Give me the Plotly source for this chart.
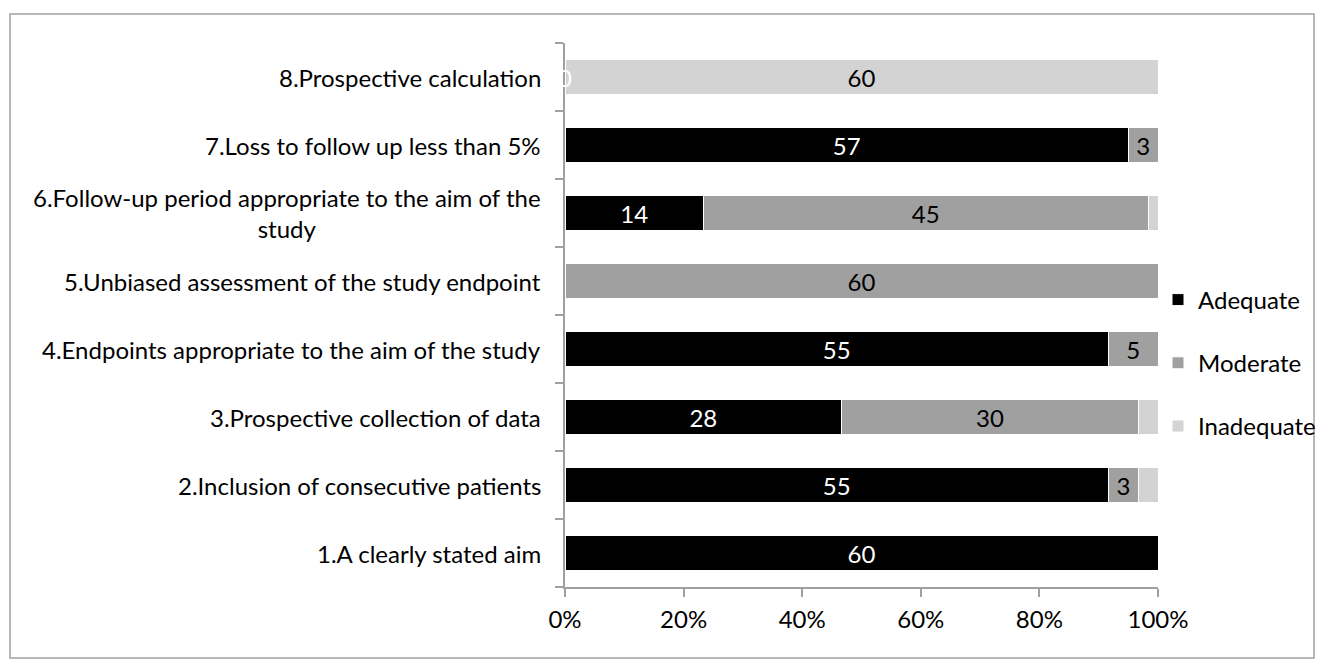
import plotly.graph_objects as go

categories = [
    "1.A clearly stated aim",
    "2.Inclusion of consecutive patients",
    "3.Prospective collection of data",
    "4.Endpoints appropriate to the aim of the study",
    "5.Unbiased assessment of the study endpoint",
    "6.Follow-up period appropriate to the aim of the<br>study",
    "7.Loss to follow up less than 5%",
    "8.Prospective calculation",
]
adequate = [60, 55, 28, 55, 0, 14, 57, 0]
moderate = [0, 3, 30, 5, 60, 45, 3, 0]
inadequate = [0, 2, 2, 0, 0, 1, 0, 60]
series_names = ["Adequate", "Moderate", "Inadequate"]
x_ticks = [0, 20, 40, 60, 80, 100]
x_tick_labels = ["0%", "20%", "40%", "60%", "80%", "100%"]

colors = ["#000000", "#a0a0a0", "#d3d3d3"]
text_colors = ["#ffffff", "#000000", "#000000"]
FONT = "Lato"
FS = 24

totals = [a + m + i for a, m, i in zip(adequate, moderate, inadequate)]
ypos = list(range(len(categories)))

fig = go.Figure()
for name, vals, col, tcol in zip(series_names, [adequate, moderate, inadequate], colors, text_colors):
    pct = [v / t * 100 for v, t in zip(vals, totals)]
    labels = [str(v) if v >= 3 else "" for v in vals]
    fig.add_trace(go.Bar(
        y=ypos, x=pct, orientation="h", name=name, legendgroup=name,
        marker=dict(color=col, line=dict(color="#ffffff", width=1)),
        text=labels, textposition="inside", insidetextanchor="middle",
        textfont=dict(family=FONT, size=FS, color=tcol),
        textangle=0, cliponaxis=False,
    ))

L, R, T, B = 565, 165, 43, 79
W, H = 1323, 666
pw, ph = W - L - R, H - T - B

# white "0" label of the empty Adequate segment in category 8
fig.add_annotation(x=0, y=7, xref="x", yref="y", text="0", showarrow=False,
                   font=dict(family=FONT, size=FS, color="#ffffff"))

for i, c in enumerate(categories):
    fig.add_annotation(x=0, y=i, xref="paper", yref="y", text=c, showarrow=False,
                       xanchor="right", yanchor="middle", align="center", xshift=-22,
                       font=dict(family=FONT, size=FS, color="#000000"))

def px2paper_x(p):
    return (p - L) / pw

def px2paper_y(p):
    return (H - B - p) / ph

fig.add_shape(type="rect", xref="paper", yref="paper",
              x0=px2paper_x(10), x1=px2paper_x(1314), y0=px2paper_y(658), y1=px2paper_y(14),
              line=dict(color="#a0a0a0", width=1.5), fillcolor="rgba(0,0,0,0)", layer="below")

fig.update_layout(
    width=W, height=H,
    margin=dict(l=L, r=R, t=T, b=B, pad=0, autoexpand=False),
    barmode="stack", bargap=0.48,
    plot_bgcolor="#ffffff", paper_bgcolor="#ffffff",
    font=dict(family=FONT, size=FS, color="#000000"),
    showlegend=True,
    legend=dict(xref="container", yref="container", x=1158 / W, y=1 - 363 / H,
                xanchor="left", yanchor="middle",
                traceorder="grouped",
                font=dict(family=FONT, size=FS, color="#000000"),
                itemwidth=30, tracegroupgap=29, bgcolor="rgba(0,0,0,0)"),
    uniformtext=dict(mode="show", minsize=FS),
)
fig.update_xaxes(range=[0, 100], tickvals=x_ticks, ticktext=x_tick_labels,
                 showgrid=False, zeroline=False, showline=True, linecolor="#a0a0a0", linewidth=1.5,
                 ticks="outside", ticklen=8, tickcolor="#a0a0a0", tickwidth=1.5,
                 ticklabelstandoff=2,
                 tickfont=dict(family=FONT, size=FS, color="#000000"))
fig.update_yaxes(range=[-0.5, 7.5], tickvals=[i - 0.5 for i in range(9)], ticktext=[""] * 9,
                 showgrid=False, zeroline=False, showline=True, linecolor="#a0a0a0", linewidth=1.5,
                 ticks="outside", ticklen=8, tickcolor="#a0a0a0", tickwidth=1.5, showticklabels=False)

fig.write_html("out.html", post_script="document.body.style.margin='0';",
               config={"displayModeBar": False})
